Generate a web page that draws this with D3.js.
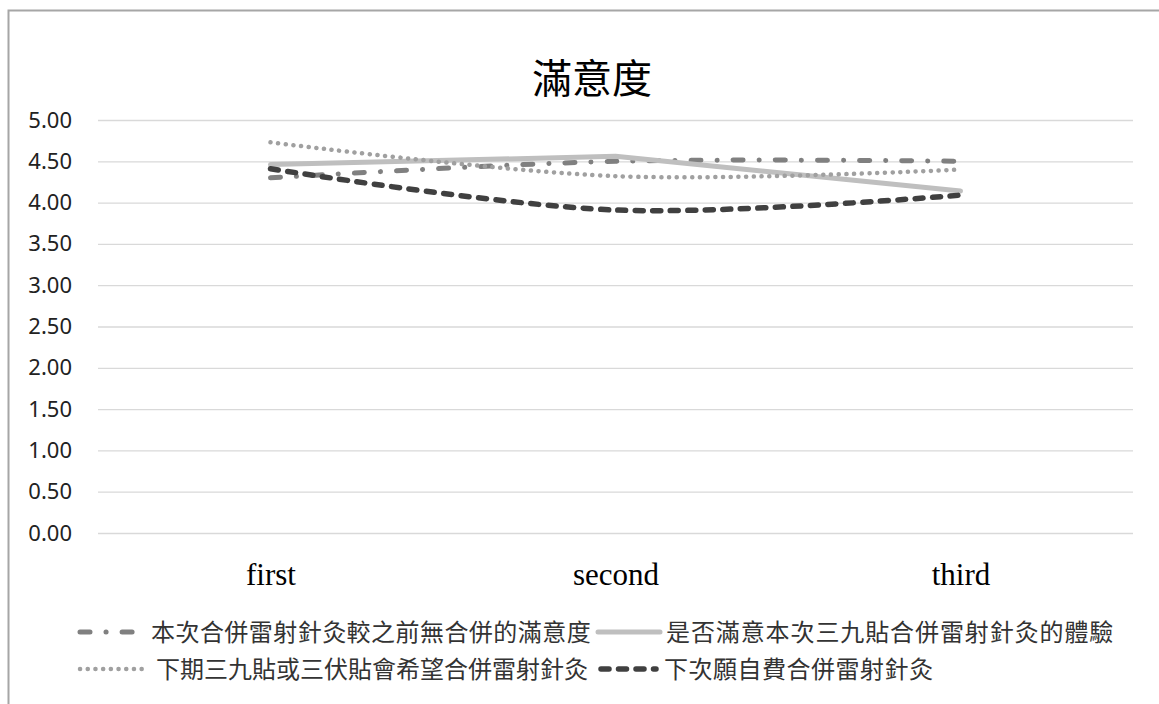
<!DOCTYPE html>
<html>
<head>
<meta charset="utf-8">
<script src="https://cdn.jsdelivr.net/npm/d3@7"></script>
<style>
  body { margin: 0; background: #fff; }
  svg { display: block; }
</style>
</head>
<body>
<div id="chart"></div>
<script>
var categories = ["first", "second", "third"];
var seriesNames = [
  "本次合併雷射針灸較之前無合併的滿意度",
  "是否滿意本次三九貼合併雷射針灸的體驗",
  "下期三九貼或三伏貼會希望合併雷射針灸",
  "下次願自費合併雷射針灸"
];
var s1 = [4.30, 4.50, 4.50];
var s2 = [4.46, 4.56, 4.14];
var s3 = [4.73, 4.32, 4.40];
var s4 = [4.41, 3.91, 4.09];
var yTicks = [0, 0.5, 1, 1.5, 2, 2.5, 3, 3.5, 4, 4.5, 5];

var width = 1159, height = 704;
var plot = {left: 98, right: 1133, top: 120, bottom: 533};

// line styles per series
var styles = [
  {color: "#808080", width: 5, dash: "10,16,0.1,16", smooth: true},
  {color: "#bfbfbf", width: 5, dash: null, smooth: false},
  {color: "#a0a0a0", width: 4.5, dash: "0.1,7.6", smooth: true},
  {color: "#404040", width: 5.5, dash: "8,9.5", smooth: true}
];

var svg = d3.select("#chart").append("svg")
    .attr("width", width)
    .attr("height", height);

// chart frame (cut off on right and bottom)
svg.append("rect")
    .attr("x", 8.5).attr("y", 10.5)
    .attr("width", 1200).attr("height", 800)
    .attr("fill", "#fff")
    .attr("stroke", "#a6a6a6")
    .attr("stroke-width", 2);

var x = d3.scalePoint()
    .domain(categories)
    .range([plot.left, plot.right])
    .padding(0.5);

var y = d3.scaleLinear()
    .domain([0, 5])
    .range([plot.bottom, plot.top]);

// TITLE
svg.append("text")
    .attr("x", 592)
    .attr("y", 93)
    .attr("text-anchor", "middle")
    .style("font-family", "'Noto Sans CJK TC'")
    .style("font-size", "40px")
    .style("fill", "#000")
    .text("滿意度");

// GRIDLINES + Y AXIS
var yAxis = d3.axisLeft(y)
    .tickValues(yTicks)
    .tickSize(-(plot.right - plot.left))
    .tickPadding(26)
    .tickFormat(d3.format(".2f"));

var gy = svg.append("g")
    .attr("transform", "translate(" + plot.left + ",0)")
    .call(yAxis);
gy.select(".domain").remove();
gy.selectAll(".tick line").attr("stroke", "#d9d9d9").attr("stroke-width", 1.3);
gy.selectAll(".tick text")
    .style("font-family", "'Noto Sans'")
    .style("font-size", "22px")
    .style("fill", "#222");

// X AXIS LABELS
var xAxis = d3.axisBottom(x).tickSize(0).tickPadding(0);
var gx = svg.append("g")
    .attr("transform", "translate(0,560)")
    .call(xAxis);
gx.select(".domain").remove();
gx.selectAll(".tick text")
    .attr("dy", "0.8em")
    .style("font-family", "'Liberation Serif'")
    .style("font-size", "31px")
    .style("fill", "#000");

// LINES
var allSeries = [s1, s2, s3, s4];

allSeries.forEach(function(vals, i) {
    var st = styles[i];
    var line = d3.line()
        .curve(st.smooth ? d3.curveCatmullRom.alpha(0.5) : d3.curveLinear)
        .x(function(d, j) { return x(categories[j]); })
        .y(function(d) { return y(d); });
    svg.append("path")
        .datum(vals)
        .attr("d", line)
        .attr("fill", "none")
        .attr("stroke", st.color)
        .attr("stroke-width", st.width)
        .attr("stroke-linecap", "round")
        .attr("stroke-linejoin", "round")
        .attr("stroke-dasharray", st.dash);
});

// LEGEND
var legendItems = [
  {i: 0, x1: 80, x2: 148, tx: 151, y: 632, ls: 0.45},
  {i: 1, x1: 598, x2: 660, tx: 666, y: 632, ls: 0.9},
  {i: 2, x1: 80, x2: 142, tx: 156, y: 669, ls: 0},
  {i: 3, x1: 601, x2: 656, tx: 664, y: 669, ls: 0.5}
];

var legend = svg.append("g").attr("class", "legend");

legendItems.forEach(function(it) {
    var st = styles[it.i];
    legend.append("line")
        .attr("x1", it.x1).attr("x2", it.x2)
        .attr("y1", it.y).attr("y2", it.y)
        .attr("stroke", st.color)
        .attr("stroke-width", st.width)
        .attr("stroke-linecap", "round")
        .attr("stroke-dasharray", st.dash);
    legend.append("text")
        .attr("x", it.tx)
        .attr("y", it.y + 9)
        .style("font-family", "'Noto Sans CJK TC'")
        .style("font-size", "24px")
        .style("letter-spacing", it.ls + "px")
        .style("fill", "#333")
        .text(seriesNames[it.i]);
});
</script>
</body>
</html>
